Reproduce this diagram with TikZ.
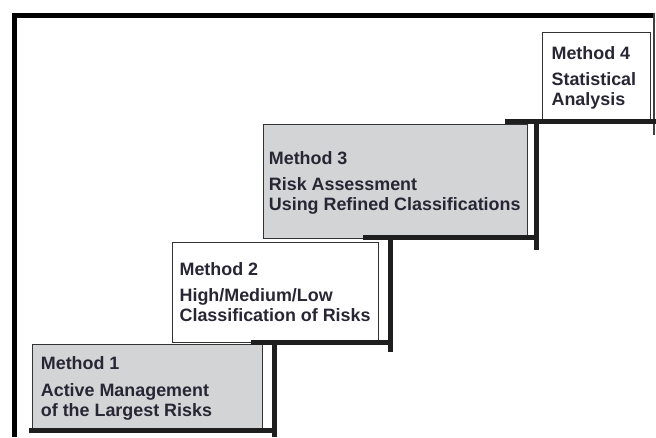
\documentclass[tikz,border=0pt]{standalone}
\usepackage{fontspec}
\setmainfont{Liberation Sans}
\begin{document}
\begin{tikzpicture}[x=1pt, y=-1pt,
        stepbox/.style={draw=black!80, line width=0.8pt, inner sep=0pt},
        shaded/.style={fill={rgb,255:red,211;green,212;blue,214}},
        steptext/.style={anchor=north west, inner sep=0pt, align=left,
            text={rgb,255:red,40;green,38;blue,52},
            font=\fontsize{17.9}{20}\selectfont\bfseries},
        stair/.style={line width=5pt, draw={rgb,255:red,30;green,30;blue,30}}]
        \useasboundingbox (0,0) rectangle (656,437);

        \draw[line width=5pt] (14.7,437) -- (14.7,15.5) -- (654,15.5);
        \draw[line width=1.2pt, black!75] (654,13) -- (654,135);

        \draw (147,387) node[stepbox, shaded, minimum width=230pt, minimum height=86pt] (m1) {};
        \draw (275.5,292.25) node[stepbox, minimum width=206pt, minimum height=99.5pt] (m2) {};
        \draw (395.5,181) node[stepbox, shaded, minimum width=264pt, minimum height=114pt] (m3) {};
        \draw (596.25,76.5) node[stepbox, minimum width=108.5pt, minimum height=89pt] (m4) {};

        \draw (40.7,356.8) node[steptext] (t1) {Method 1\\[6.5pt]Active Management\\of the Largest Risks};
        \draw (179.4,262) node[steptext] (t2) {Method 2\\[6.5pt]High/Medium/Low\\Classification of Risks};
        \draw (268.7,151) node[steptext] (t3) {Method 3\\[6.5pt]Risk Assessment\\Using Refined Classifications};
        \draw (551.4,46.3) node[steptext] (t4) {Method 4\\[6.5pt]Statistical\\Analysis};

        \draw[stair] (29,430.5) -- (274,430.5);
        \draw[stair] (274,342.5) -- (274,437);
        \draw[stair] (251,342.5) -- (390.5,342.5);
        \draw[stair] (390.5,237.5) -- (390.5,352);
        \draw[stair] (363,237.5) -- (536,237.5);
        \draw[stair] (536,121.5) -- (536,250);
        \draw[stair] (505,121.5) -- (656,121.5);
    \end{tikzpicture}
\end{document}
